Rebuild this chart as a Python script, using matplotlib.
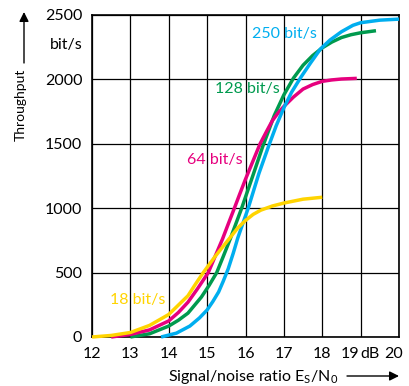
import matplotlib
matplotlib.use("Agg")
import matplotlib.pyplot as plt

plt.rcParams["font.family"] = ["Lato", "DejaVu Sans"]
plt.rcParams["mathtext.fontset"] = "custom"
plt.rcParams["mathtext.rm"] = "Lato"
plt.rcParams["mathtext.it"] = "Lato"

# Throughput (bit/s) versus Es/N0 (dB) for four channel data rates
snr_18 = [12.0, 12.5, 13.0, 13.5, 14.0, 14.5, 14.7, 14.9, 15.2, 15.5, 15.8, 16.0, 16.2, 16.4,
          16.7, 17.0, 17.5, 18.0]
thr_18 = [0, 12, 35, 90, 175, 320, 412, 500, 622, 735, 847, 905, 952, 985,
          1017, 1040, 1070, 1085]

snr_64 = [12.5, 13.0, 13.5, 14.0, 14.25, 14.5, 14.75, 15.03, 15.2, 15.4, 15.55, 15.71, 15.85, 16.0,
          16.2, 16.38, 16.55, 16.7, 16.85, 17.0, 17.25, 17.5, 17.75, 18.0, 18.25, 18.5, 18.9]
thr_64 = [0, 20, 55, 125, 190, 270, 375, 500, 620, 760, 877, 1000, 1110, 1225,
          1370, 1500, 1597, 1680, 1740, 1790, 1863, 1925, 1960, 1985, 1996, 2003, 2008]

snr_128 = [13.0, 13.5, 14.0, 14.25, 14.5, 14.85, 15.05, 15.25, 15.42, 15.6, 15.9, 16.2, 16.45,
           16.75, 17.0, 17.25, 17.5, 17.75, 18.0, 18.25, 18.5, 18.75, 19.0, 19.4]
thr_128 = [0, 25, 85, 130, 185, 310, 400, 500, 625, 760, 1000, 1260, 1480,
           1720, 1880, 2010, 2110, 2185, 2245, 2290, 2325, 2347, 2362, 2378]

snr_250 = [13.8, 14.2, 14.55, 14.8, 15.0, 15.15, 15.3, 15.42, 15.55, 15.68, 15.8, 16.07, 16.35,
           16.6, 16.8, 17.0, 17.2, 17.45, 17.7, 17.95, 18.2, 18.5, 18.8, 19.0, 19.5, 20.0]
thr_250 = [0, 30, 85, 148, 210, 276, 350, 433, 530, 650, 770, 1000, 1270,
           1480, 1640, 1780, 1900, 2020, 2130, 2235, 2305, 2370, 2420, 2440, 2460, 2468]

x_ticks = [12, 13, 14, 15, 16, 17, 18, 19, 20]
x_tick_labels = ["12", "13", "14", "15", "16", "17", "18", "", ""]
y_ticks = [0, 500, 1000, 1500, 2000, 2500]

YELLOW = "#FFD400"
MAGENTA = "#E6007E"
GREEN = "#009A4E"
CYAN = "#00AEEF"

fig = plt.figure(figsize=(4.09, 3.86), dpi=100)
ax = fig.add_axes([92 / 409, 49 / 386, 307 / 409, 322 / 386])

ax.set_xlim(12, 20)
ax.set_ylim(0, 2500)
ax.set_xticks(x_ticks)
ax.set_xticklabels(x_tick_labels)
ax.set_yticks(y_ticks)
ax.set_yticklabels([str(v) for v in y_ticks])
ax.tick_params(length=0, labelsize=11.5, pad=7)
ax.grid(True, color="black", lw=0.9)
ax.set_axisbelow(True)
for s in ax.spines.values():
    s.set_linewidth(1.2)
    s.set_color("black")

lw = 2.5
ax.plot(snr_128, thr_128, color=GREEN, lw=lw, solid_capstyle="butt", zorder=3, clip_on=False)
ax.plot(snr_64, thr_64, color=MAGENTA, lw=lw, solid_capstyle="butt", zorder=4, clip_on=False)
ax.plot(snr_250, thr_250, color=CYAN, lw=lw, solid_capstyle="butt", zorder=5, clip_on=False)
ax.plot(snr_18, thr_18, color=YELLOW, lw=lw, solid_capstyle="butt", zorder=6, clip_on=False)

lab = dict(fontsize=11.5, va="center", ha="left", zorder=7)
ax.text(16.17, 2352, "250 bit/s", color=CYAN, **lab)
ax.text(15.2, 1925, "128 bit/s", color=GREEN, **lab)
ax.text(14.48, 1374, "64 bit/s", color=MAGENTA, **lab)
ax.text(12.47, 287, "18 bit/s", color=YELLOW, **lab)

# unit and last x tick labels
ax.annotate("bit/s", xy=(0, 2265), xycoords=("axes fraction", "data"),
            xytext=(-7, 0), textcoords="offset points", ha="right", va="center", fontsize=11.5)
for xpos, txt in [(18.72, "19"), (19.24, "dB"), (19.86, "20")]:
    ax.annotate(txt, xy=(xpos, 0), xycoords=("data", "axes fraction"),
                xytext=(0, -7), textcoords="offset points", ha="center", va="top", fontsize=11.5)

# axis titles with arrows
fig.text(168 / 409, 1 - 381 / 386, r"Signal/noise ratio E$_\mathrm{S}$/N$_\mathrm{0}$",
         ha="left", va="baseline", fontsize=11.5)
fig.text(21 / 409, 1 - 105 / 386, "Throughput", rotation=90, ha="center", va="center", fontsize=10)
arrow = dict(arrowstyle="-|>", color="black", lw=1.0, mutation_scale=14, shrinkA=0, shrinkB=0)
fig.add_artist(matplotlib.patches.FancyArrowPatch((347, 10), (399, 10), transform=None, **arrow))
fig.add_artist(matplotlib.patches.FancyArrowPatch((24, 323), (24, 374), transform=None, **arrow))

fig.savefig("out.png", dpi=100)
